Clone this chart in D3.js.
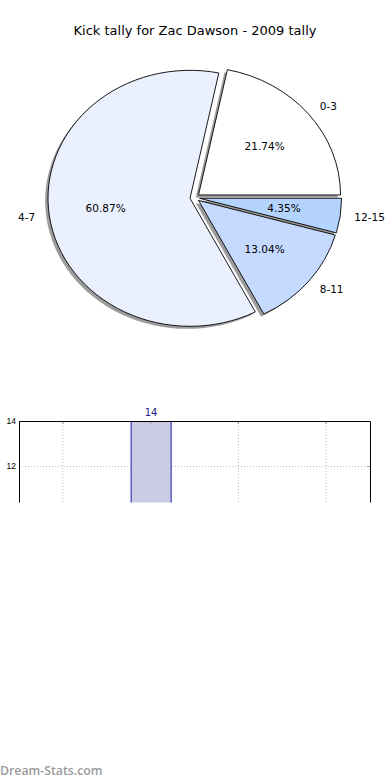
<!DOCTYPE html>
<html>
<head>
<meta charset="utf-8">
<script src="https://cdn.jsdelivr.net/npm/d3@7"></script>
<style>
  html, body { margin: 0; padding: 0; background: #fff; }
  svg { display: block; }
</style>
</head>
<body>
<svg id="chart" width="390" height="780"></svg>
<script>
// ---- data ----
const title = "Kick tally for Zac Dawson - 2009 tally";
const categories = ["0-3", "4-7", "8-11", "12-15"];
const kickCounts = [5, 14, 3, 1];
const sliceColors = ["#ffffff", "#eaf0fe", "#c6d9fe", "#b4d4fe"];
const barValues = [5, 14, 3, 1];
const yTickValues = [0, 2, 4, 6, 8, 10, 12, 14];
const watermark = "Dream-Stats.com";

const svg = d3.select("#chart");

// ---- title ----
svg.append("text")
  .attr("x", 195).attr("y", 34.5)
  .attr("text-anchor", "middle")
  .style("font-family", "DejaVu Sans")
  .style("font-size", "13px")
  .attr("fill", "#000")
  .text(title);

// ---- pie (elliptical, exploded, shadowed) ----
const cx = 194.8, cy = 197.7, rx = 142, ry = 128;
const explode = 0.034;
const total = d3.sum(kickCounts);
const pie = d3.pie().sort(null).startAngle(Math.PI / 2).endAngle(Math.PI / 2 - 2 * Math.PI);
const arcs = pie(kickCounts);
const arc = d3.arc().innerRadius(0).outerRadius(1);

const pieG = svg.append("g").attr("transform", `translate(${cx},${cy}) scale(${rx},${ry})`);

function midOffset(d, k) {
  const a = (d.startAngle + d.endAngle) / 2;
  return [k * Math.sin(a), -k * Math.cos(a)];
}

// shadows
pieG.selectAll("path.shadow").data(arcs).enter().append("path")
  .attr("class", "shadow")
  .attr("transform", d => { const [dx, dy] = midOffset(d, explode); return `translate(${dx - 0.02},${dy + 0.02})`; })
  .attr("d", arc)
  .attr("fill", "#9c9c9c")
  .attr("stroke", "none");

// slices
pieG.selectAll("path.slice").data(arcs).enter().append("path")
  .attr("class", "slice")
  .attr("transform", d => { const [dx, dy] = midOffset(d, explode); return `translate(${dx},${dy})`; })
  .attr("d", arc)
  .attr("fill", (d, i) => sliceColors[i])
  .attr("stroke", "#000")
  .attr("stroke-width", 0.9)
  .attr("stroke-linejoin", "miter")
  .attr("vector-effect", "non-scaling-stroke");

// labels
const labelG = svg.append("g");
arcs.forEach((d, i) => {
  const [ex, ey] = midOffset(d, explode);
  const [lx, ly] = midOffset(d, 1.1);
  const [px, py] = midOffset(d, 0.6);
  const x0 = cx + ex * rx, y0 = cy + ey * ry;
  labelG.append("text")
    .attr("x", x0 + lx * rx).attr("y", y0 + ly * ry)
    .attr("dy", "0.35em")
    .attr("text-anchor", lx > 0 ? "start" : "end")
    .style("font-family", "DejaVu Sans").style("font-size", "10.5px")
    .text(categories[i]);
  labelG.append("text")
    .attr("x", x0 + px * rx).attr("y", y0 + py * ry)
    .attr("dy", "0.35em")
    .attr("text-anchor", "middle")
    .style("font-family", "DejaVu Sans").style("font-size", "10.5px")
    .text(d3.format(".2f")(100 * d.value / total) + "%");
});

// ---- bar chart (clipped at bottom) ----
const bx0 = 19, bx1 = 370, by0 = 421;
const clipBottom = 502.5;
const x = d3.scaleBand().domain(categories).range([bx0, bx1]).padding(0);
const y = d3.scaleLinear().domain([0, 14]).range([by0 + 14 * 22.5, by0]);

svg.append("defs").append("clipPath").attr("id", "barclip")
  .append("rect").attr("x", 0).attr("y", 400).attr("width", 390).attr("height", clipBottom - 400);

const barG = svg.append("g").attr("clip-path", "url(#barclip)");

// gridlines
barG.selectAll("line.vgrid").data(categories).enter().append("line")
  .attr("x1", d => x(d) + x.bandwidth() / 2).attr("x2", d => x(d) + x.bandwidth() / 2)
  .attr("y1", y(0)).attr("y2", y(14))
  .attr("stroke", "#bdbdbd").attr("stroke-width", 1).attr("stroke-dasharray", "1,2");
barG.selectAll("line.hgrid").data(yTickValues).enter().append("line")
  .attr("x1", bx0).attr("x2", bx1)
  .attr("y1", d => y(d) + 0.5).attr("y2", d => y(d) + 0.5)
  .attr("stroke", "#bdbdbd").attr("stroke-width", 1).attr("stroke-dasharray", "1,2");

// bars
const barW = x.bandwidth() * 0.456;
barG.selectAll("rect.bar").data(barValues).enter().append("rect")
  .attr("x", (d, i) => x(categories[i]) + x.bandwidth() / 2 - barW / 2 + 0.5)
  .attr("y", d => y(d) + 0.5)
  .attr("width", barW)
  .attr("height", d => y(0) - y(d))
  .attr("fill", "#cbcce4")
  .attr("stroke", "#1818b0")
  .attr("stroke-width", 1);

// value labels
barG.selectAll("text.val").data(barValues).enter().append("text")
  .attr("x", (d, i) => x(categories[i]) + x.bandwidth() / 2 + 0.5)
  .attr("y", d => y(d) - 5)
  .attr("text-anchor", "middle")
  .style("font-family", "DejaVu Sans").style("font-size", "10px")
  .attr("fill", "#1c1c8c")
  .text(d => d);

// ticks (inside)
barG.selectAll("line.xtick").data(categories).enter().append("line")
  .attr("x1", d => x(d) + x.bandwidth() / 2).attr("x2", d => x(d) + x.bandwidth() / 2)
  .attr("y1", by0).attr("y2", by0 + 3)
  .attr("stroke", "#999");
barG.selectAll("line.ytick").data(yTickValues).enter().append("line")
  .attr("x1", bx1 - 3).attr("x2", bx1)
  .attr("y1", d => y(d) + 0.5).attr("y2", d => y(d) + 0.5)
  .attr("stroke", "#999");

// frame
barG.append("path")
  .attr("d", `M${bx0 + 0.5},${y(0)} V${by0 + 0.5} H${bx1 + 0.5} V${y(0)}`)
  .attr("fill", "none").attr("stroke", "#000").attr("stroke-width", 1);

// y tick labels
barG.selectAll("text.ylab").data(yTickValues).enter().append("text")
  .attr("x", bx0 - 3).attr("y", d => y(d))
  .attr("dy", "0.35em")
  .attr("text-anchor", "end")
  .style("font-family", "Liberation Sans").style("font-size", "8.5px")
  .attr("fill", "#000")
  .text(d => d);

// ---- watermark ----
svg.append("text")
  .attr("x", 0).attr("y", 775)
  .style("font-family", "Open Sans").style("font-size", "12.3px").style("font-weight", "600")
  .attr("fill", "#9a9a9a")
  .text(watermark);
</script>
</body>
</html>
